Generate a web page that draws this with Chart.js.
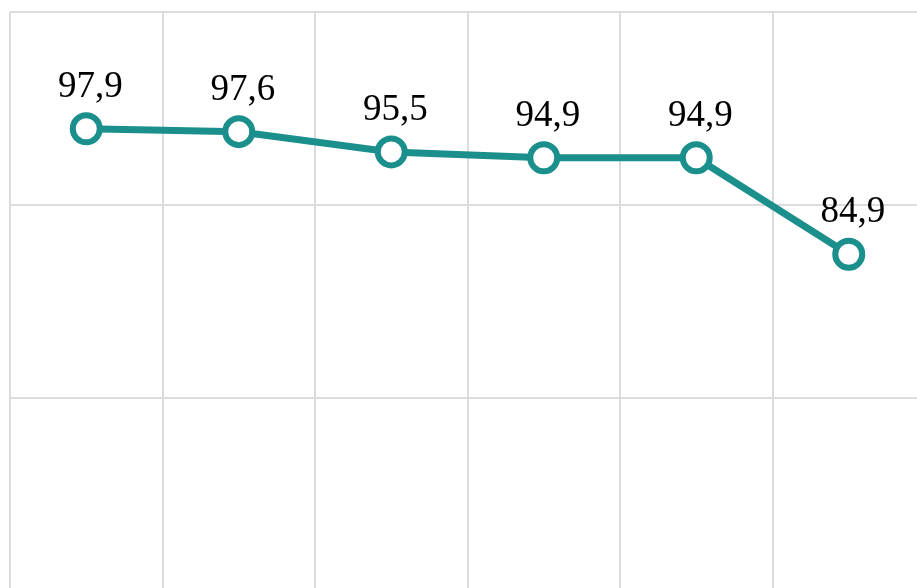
<!DOCTYPE html>
<html>
<head>
<meta charset="utf-8">
<script src="https://cdn.jsdelivr.net/npm/chart.js@4"></script>
<style>
  html, body { margin: 0; padding: 0; background: #fff; overflow: hidden; }
  #wrap { position: relative; width: 935px; height: 600px; }
</style>
</head>
<body>
<div id="wrap"><canvas id="chart"></canvas></div>
<script>
const categories = ['1', '2', '3', '4', '5', '6'];
const values = [97.9, 97.6, 95.5, 94.9, 94.9, 84.9];
const valueLabels = ['97,9', '97,6', '95,5', '94,9', '94,9', '84,9'];

// draw the value above each point
const pointLabels = {
    id: 'pointLabels',
    afterDatasetsDraw(chart) {
        const ctx = chart.ctx;
        const meta = chart.getDatasetMeta(0);
        ctx.save();
        ctx.font = '37px "Liberation Serif", "Times New Roman", serif';
        ctx.fillStyle = '#000';
        ctx.textAlign = 'center';
        ctx.textBaseline = 'alphabetic';
        meta.data.forEach((pt, i) => {
            ctx.fillText(valueLabels[i], pt.x + 4, pt.y - 32);
        });
        ctx.restore();
    }
};

new Chart(document.getElementById('chart'), {
    type: 'line',
    data: {
        labels: categories,
        datasets: [{
            data: values,
            borderColor: '#1a8f8c',
            borderWidth: 7,
            pointRadius: 13.5,
            pointBorderWidth: 6,
            pointBackgroundColor: '#ffffff',
            pointBorderColor: '#1a8f8c',
            tension: 0,
            clip: false
        }]
    },
    options: {
        responsive: true,
        maintainAspectRatio: false,
        animation: false,
        layout: { autoPadding: false, padding: { left: 10, top: 12, right: 10, bottom: 9 } },
        plugins: { legend: { display: false }, tooltip: { enabled: false } },
        scales: {
            x: {
                offset: true,
                grid: { color: '#dcdcdc', lineWidth: 2, drawTicks: false, offset: true },
                border: { display: false },
                ticks: { display: false },
                afterFit: s => { s.height = 0; s.paddingLeft = 0; s.paddingRight = 0; }
            },
            y: {
                min: 50,
                max: 110,
                ticks: { display: false, stepSize: 20 },
                grid: { color: '#dcdcdc', lineWidth: 2, drawTicks: false },
                border: { display: false },
                afterFit: s => { s.width = 0; s.paddingTop = 0; s.paddingBottom = 0; }
            }
        }
    },
    plugins: [pointLabels]
});
</script>
</body>
</html>
